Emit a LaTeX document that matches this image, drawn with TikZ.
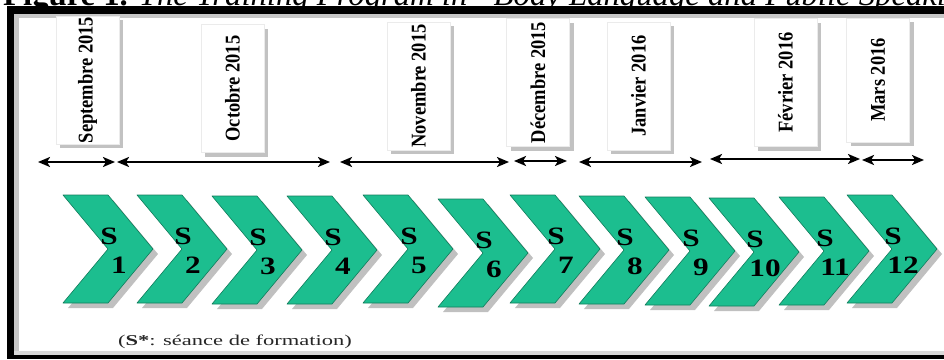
\documentclass[tikz,border=0pt]{standalone}
\usepackage{fontspec}
\setmainfont{Liberation Serif}
\usetikzlibrary{arrows.meta,shadows}
\definecolor{seancevert}{RGB}{28,190,143}
\definecolor{seancebord}{RGB}{18,125,92}
\newcommand{\mois}[1]{\rotatebox{90}{\scalebox{.88}[1]{#1}}} % texte vertical serre
\newcommand{\numseance}[1]{\scalebox{1.25}[1]{S}\\\hspace*{20pt}\scalebox{1.25}[1]{#1}}
\tikzset{
  moisbox/.style={draw=black!8, fill=white, minimum width=63pt, minimum height=128pt, inner sep=0pt,
    font=\fontsize{21}{21}\selectfont\bfseries,
    drop shadow={shadow xshift=4pt, shadow yshift=-4pt, fill=black!40, opacity=.6}}, % case du mois
  fleche/.style={line width=2.2pt, {Stealth[length=12pt,width=10pt,inset=3pt]}-{Stealth[length=12pt,width=10pt,inset=3pt]}},
  chevron/.style={fill=seancevert, draw=seancebord, line width=.6pt, line join=round,
    drop shadow={shadow xshift=5pt, shadow yshift=-5pt, fill=black!45, opacity=.55}}, % fleche de seance
  seance/.style={font=\fontsize{25}{29}\selectfont\bfseries, align=center, inner sep=0pt}
}
\begin{document}
\begin{tikzpicture}[x=1pt, y=-1pt] % 1 unite = 1 pixel, y vers le bas
\useasboundingbox (0,0) rectangle (944,359);
% legende coupee en haut
\node[anchor=base west, inner sep=0pt, font=\fontsize{32.7}{34}\selectfont] (legende) at (3,5)
  {\textbf{Figure 1.} \textit{The Training Program in “Body Language and Public Speaking”}};
% cadre
\fill[black!22] (14,13.5) rectangle (944,18);
\fill[black!22] (14,13.5) rectangle (19,355);
\fill[black!15] (14,351) rectangle (944,355);
\fill (7,6) rectangle (944,13.5);
\fill (7,6) rectangle (14,359);
\fill (7,355) rectangle (944,359);
% mois
\node[moisbox] (sep) at (87.5,80) {\mois{Septembre 2015}};
\node[moisbox] (oct) at (232.5,88.5) {\mois{Octobre 2015}};
\node[moisbox] (nov) at (418.5,86) {\mois{Novembre 2015}};
\node[moisbox] (dec) at (538,82.5) {\mois{Décembre 2015}};
\node[moisbox] (jan) at (638.5,86) {\mois{Janvier 2016}};
\node[moisbox] (fev) at (785.5,82.5) {\mois{Février 2016}};
\node[moisbox, minimum height=124pt] (mar) at (878,80) {\mois{Mars 2016}};
% durees
\foreach \i/\a/\b/\h in {1/38/115/162, 2/117/330/162, 3/340/509/162, 4/514/567/161,
                        5/579/702/162, 6/710/860/159, 7/862/924/160}{
  \coordinate (g\i) at (\a,\h);
  \coordinate (d\i) at (\b,\h);
  \draw[fleche] (g\i) -- (d\i);
}
% seances
\foreach \x/\y/\n in {63/195/1, 137/195/2, 212/196/3, 287/196/4, 363/195/5, 438/199/6,
                      510/195/7, 579/196/8, 645/197/9, 709/198/10, 779/197/11, 847/195/12}{
  \draw[chevron] (\x,\y) -- ++(45,0) -- ++(45,54) -- ++(-45,54) -- ++(-45,0) -- ++(45,-54) -- cycle;
  \node[seance] (s\n) at (\x+46,\y+56) {\numseance{\n}};
}
\node[font=\fontsize{15}{15}\selectfont, text=black!85, inner sep=0pt] (note) at (235,342)
  {\scalebox{1.5}[1]{(\textbf{S*}: séance de formation)}};
\end{tikzpicture}
\end{document}
